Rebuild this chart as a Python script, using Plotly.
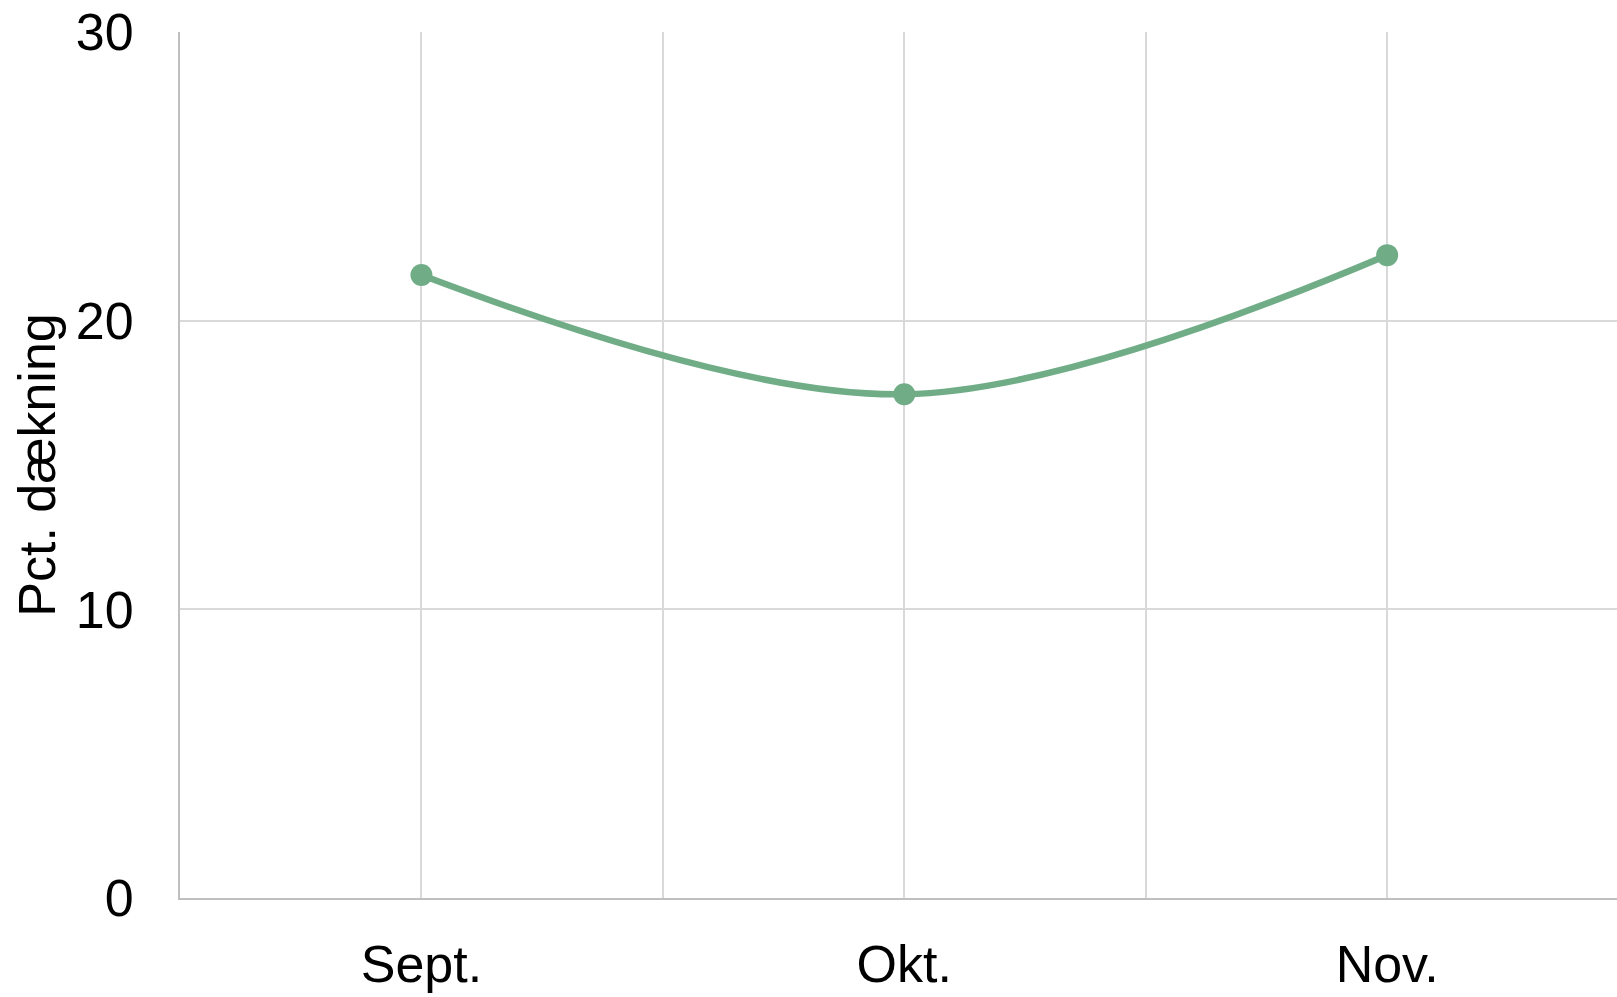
import plotly.graph_objects as go

# Monthly coverage (percent)
months = ["Sept.", "Okt.", "Nov."]
coverage = [21.58, 17.45, 22.27]

y_ticks = [0, 10, 20, 30]

positions = list(range(len(months)))

fig = go.Figure()
fig.add_trace(go.Scatter(
    x=positions,
    y=coverage,
    mode="lines+markers",
    line=dict(color="#70AD87", width=6.5, shape="spline", smoothing=1),
    marker=dict(color="#70AD87", size=22),
    showlegend=False,
    hoverinfo="skip",
))

# x gridlines fall at every half category, labels only on the categories
grid_vals = [i * 0.5 for i in range(2 * len(months) - 1)]
grid_text = [months[int(v)] if v == int(v) else "" for v in grid_vals]

fig.update_layout(
    width=1617,
    height=997,
    margin=dict(l=180, r=0, t=32, b=99),
    paper_bgcolor="white",
    plot_bgcolor="white",
    font=dict(family="Liberation Sans, Arial, sans-serif", size=52, color="black"),
    xaxis=dict(
        range=[-0.5, 2.476],
        tickmode="array",
        tickvals=grid_vals,
        ticktext=grid_text,
        showgrid=True,
        gridcolor="#D9D9D9",
        gridwidth=2,
        zeroline=False,
        showline=True,
        linecolor="#BFBFBF",
        linewidth=2,
        ticks="",
        ticklabelstandoff=20,
        automargin=False,
        fixedrange=True,
    ),
    yaxis=dict(
        range=[0, 30],
        tickmode="array",
        tickvals=y_ticks,
        ticktext=[str(v) for v in y_ticks],
        showgrid=True,
        gridcolor="#D9D9D9",
        gridwidth=2,
        zeroline=False,
        showline=True,
        linecolor="#BFBFBF",
        linewidth=2,
        ticks="",
        ticklabelstandoff=34,
        automargin=False,
        title=dict(text="Pct. dækning", standoff=4, font=dict(size=52)),
        fixedrange=True,
    ),
)

fig.write_html("out.html")
